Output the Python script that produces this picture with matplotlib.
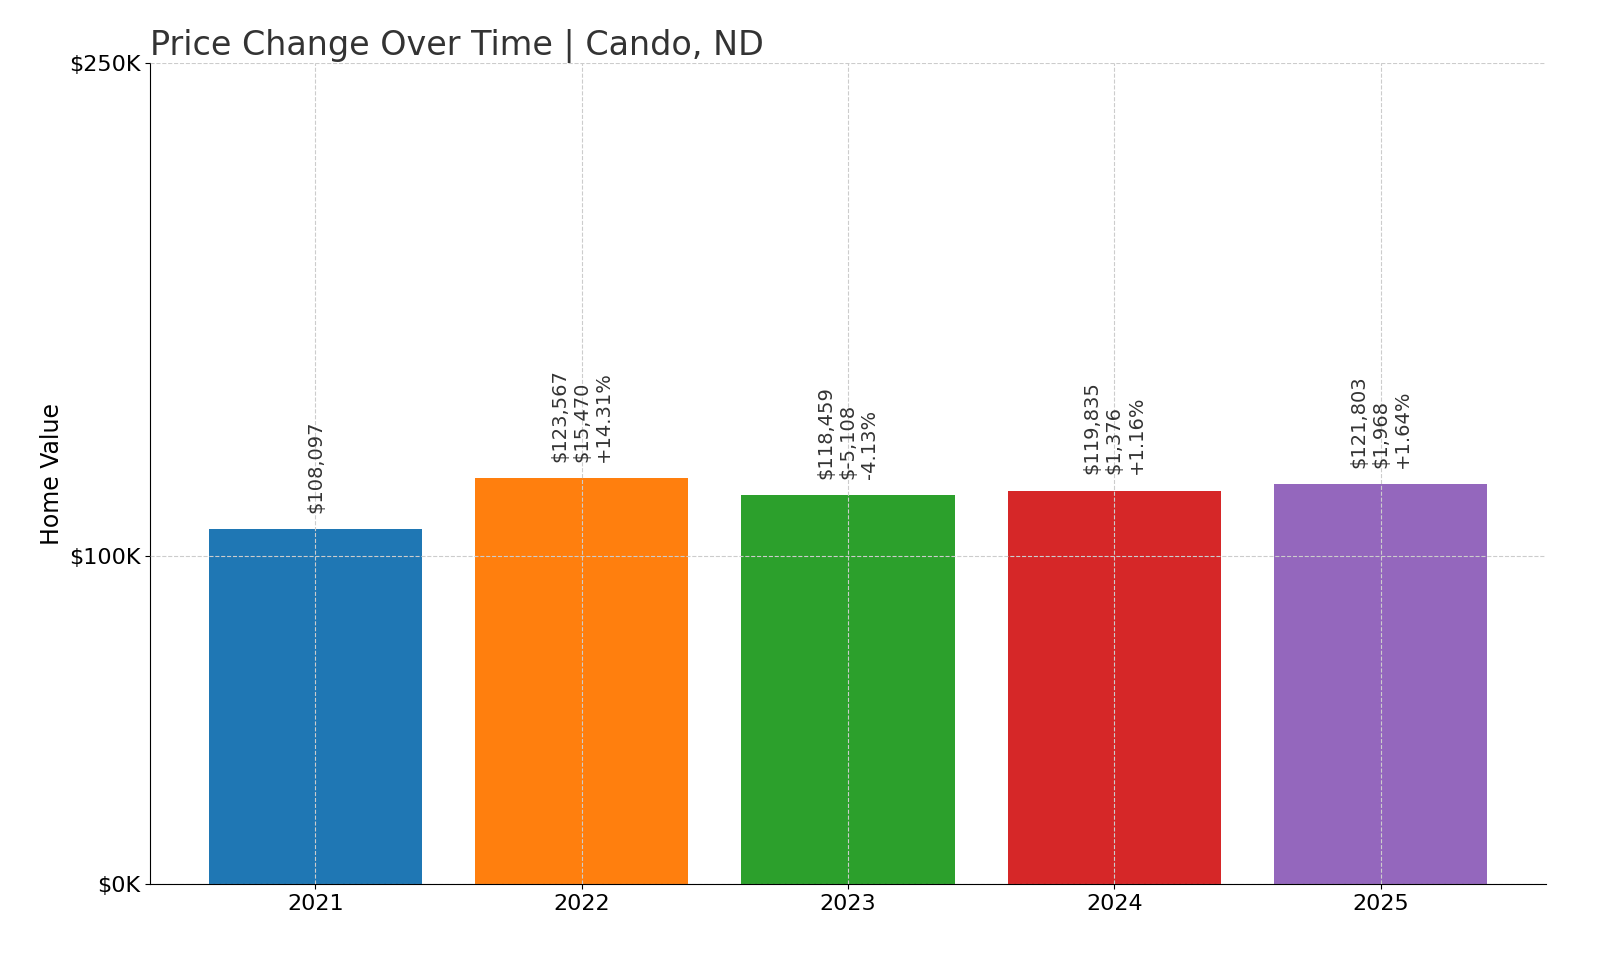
import matplotlib
matplotlib.use("Agg")
import matplotlib.pyplot as plt
from matplotlib.ticker import FuncFormatter

years = ["2021", "2022", "2023", "2024", "2025"]
values = [108097, 123567, 118459, 119835, 121803]
changes = [None, "$15,470", "$-5,108", "$1,376", "$1,968"]
pcts = [None, "+14.31%", "-4.13%", "+1.16%", "+1.64%"]
colors = ["#1f77b4", "#ff7f0e", "#2ca02c", "#d62728", "#9467bd"]

fig = plt.figure(figsize=(16, 9.6), dpi=100)
ax = fig.add_axes([0.094, 0.079, 0.872, 0.855])
x = range(len(years))
ax.bar(x, values, color=colors, width=0.8, zorder=2)
for i, v in enumerate(values):
    lines = [f"${v:,}"]
    if changes[i]:
        lines += [changes[i], pcts[i]]
    ax.annotate("\n".join(lines), (i, v), xytext=(0, 12), textcoords="offset points",
                rotation=90, ha="center", va="bottom", fontsize=14, color="#333333",
                multialignment="left", zorder=3)
ax.set_xticks(list(x))
ax.set_xticklabels(years)
ax.set_xlim(-0.62, 4.62)
ax.set_ylim(0, 250000)
ax.set_yticks([0, 100000, 250000])
ax.yaxis.set_major_formatter(FuncFormatter(lambda v, p: f"${int(v/1000)}K"))
ax.tick_params(labelsize=16)
ax.grid(True, linestyle="--", color="#cccccc", linewidth=0.8, zorder=0)
ax.set_axisbelow(False)
for s in ["top", "right"]:
    ax.spines[s].set_visible(False)
ax.set_ylabel("Home Value", fontsize=17)
ax.set_title("Price Change Over Time | Cando, ND", fontsize=24, loc="left", color="#333333")
fig.savefig("out.png", dpi=100)
